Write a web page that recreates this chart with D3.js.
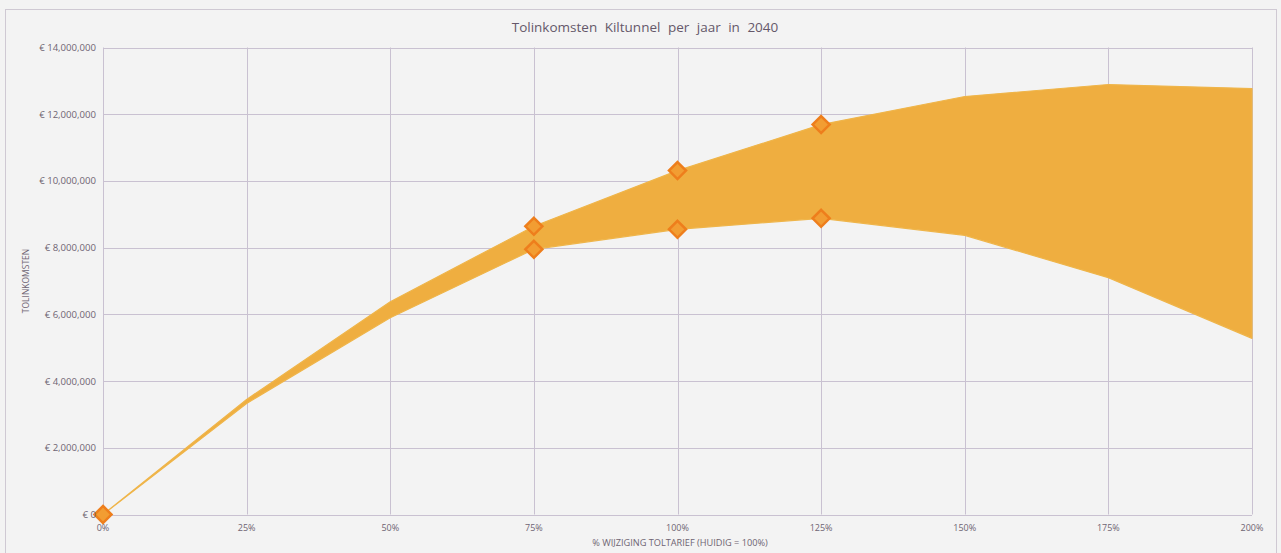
<!DOCTYPE html>
<html>
<head>
<meta charset="utf-8">
<script src="https://cdn.jsdelivr.net/npm/d3@7"></script>
<style>
  html, body { margin: 0; padding: 0; background: #f3f3f3; }
  svg { display: block; }
</style>
</head>
<body>
<svg id="chart" width="1281" height="553"></svg>
<script>
// ---- data ----
const toltarief = [0, 25, 50, 75, 100, 125, 150, 175, 200];           // % wijziging toltarief
const upperValues = [0, 3450000, 6380000, 8640000, 10310000, 11690000, 12530000, 12890000, 12770000];
const lowerValues = [0, 3330000, 5900000, 7950000, 8550000, 8880000, 8370000, 7100000, 5280000];
const markerX = [0, 75, 75, 100, 100, 125, 125];
const markerValues = [0, 8640000, 7950000, 10310000, 8550000, 11690000, 8880000];
const yTicks = [0, 2000000, 4000000, 6000000, 8000000, 10000000, 12000000, 14000000];
const xTicks = [0, 25, 50, 75, 100, 125, 150, 175, 200];
const titleText = "Tolinkomsten Kiltunnel per jaar in 2040";
const xTitle = "% WIJZIGING TOLTARIEF (HUIDIG = 100%)";
const yTitle = "TOLINKOMSTEN";

// ---- layout ----
const svg = d3.select("#chart");
const plot = { left: 103, right: 1252, top: 47.5, bottom: 514.5 };
const x = d3.scaleLinear().domain([0, 200]).range([plot.left, plot.right]);
const y = d3.scaleLinear().domain([0, 14000000]).range([plot.bottom, plot.top]);

const gridColor = "#c9c1d1";
const textColor = "#6e6472";
const font = "Open Sans, DejaVu Sans, sans-serif";

// outer border
svg.append("rect")
  .attr("x", 5.5).attr("y", 9.5).attr("width", 1271).attr("height", 560)
  .attr("fill", "#f3f3f3").attr("stroke", "#cfc9d3").attr("stroke-width", 1);

// gridlines
const gx = svg.append("g");
gx.selectAll("line.h").data(yTicks).enter().append("line")
  .attr("x1", plot.left).attr("x2", plot.right)
  .attr("y1", d => Math.round(y(d)) + 0.5).attr("y2", d => Math.round(y(d)) + 0.5)
  .attr("stroke", gridColor).attr("stroke-width", 1);
gx.selectAll("line.v").data(xTicks).enter().append("line")
  .attr("y1", plot.top).attr("y2", plot.bottom)
  .attr("x1", d => Math.round(x(d)) + 0.5).attr("x2", d => Math.round(x(d)) + 0.5)
  .attr("stroke", gridColor).attr("stroke-width", 1);

// area between bounds
const bandData = toltarief.map((t, i) => ({ t, lo: lowerValues[i], hi: upperValues[i] }));
const area = d3.area()
  .x(d => x(d.t))
  .y0(d => y(d.lo))
  .y1(d => y(d.hi));
svg.append("path").datum(bandData)
  .attr("d", area)
  .attr("fill", "#efae40")
  .attr("stroke", "#efb54a")
  .attr("stroke-width", 1.2)
  .attr("stroke-linejoin", "round");

// markers (diamonds)
const diamond = d3.symbol().type(d3.symbolDiamond2 || d3.symbolSquare).size(185);
svg.append("g").selectAll("path").data(markerX.map((t, i) => ({ t, v: markerValues[i] })))
  .enter().append("path")
  .attr("transform", d => `translate(${x(d.t)},${y(d.v)}) rotate(${d3.symbolDiamond2 ? 0 : 45})`)
  .attr("d", diamond)
  .attr("fill", "#f29d32")
  .attr("stroke", "#ee7e1c")
  .attr("stroke-width", 2.5);

// y tick labels
const fmt = d => "€ " + d3.format(",")(d);
svg.append("g").selectAll("text").data(yTicks).enter().append("text")
  .attr("x", 96).attr("y", d => y(d) + 3.5)
  .attr("text-anchor", "end")
  .attr("font-family", font)
  .attr("font-size", 9.6)
  .attr("fill", textColor)
  .text(fmt);

// x tick labels
svg.append("g").selectAll("text").data(xTicks).enter().append("text")
  .attr("x", d => x(d)).attr("y", 531)
  .attr("text-anchor", "middle")
  .attr("font-family", font)
  .attr("font-size", 9)
  .attr("fill", textColor)
  .text(d => d + "%");

// axis titles
svg.append("text")
  .attr("x", 680).attr("y", 546)
  .attr("text-anchor", "middle")
  .attr("font-family", font)
  .attr("font-size", 9.2)
  .attr("fill", textColor)
  .text(xTitle);

svg.append("text")
  .attr("transform", `translate(29, 281) rotate(-90)`)
  .attr("text-anchor", "middle")
  .attr("font-family", font)
  .attr("font-size", 8.5)
  .attr("fill", textColor)
  .text(yTitle);

// title
svg.append("text")
  .attr("x", 645).attr("y", 32)
  .attr("text-anchor", "middle")
  .attr("font-family", font)
  .attr("font-size", 13.5)
  .attr("word-spacing", 4)
  .attr("fill", "#65586a")
  .text(titleText);
</script>
</body>
</html>
